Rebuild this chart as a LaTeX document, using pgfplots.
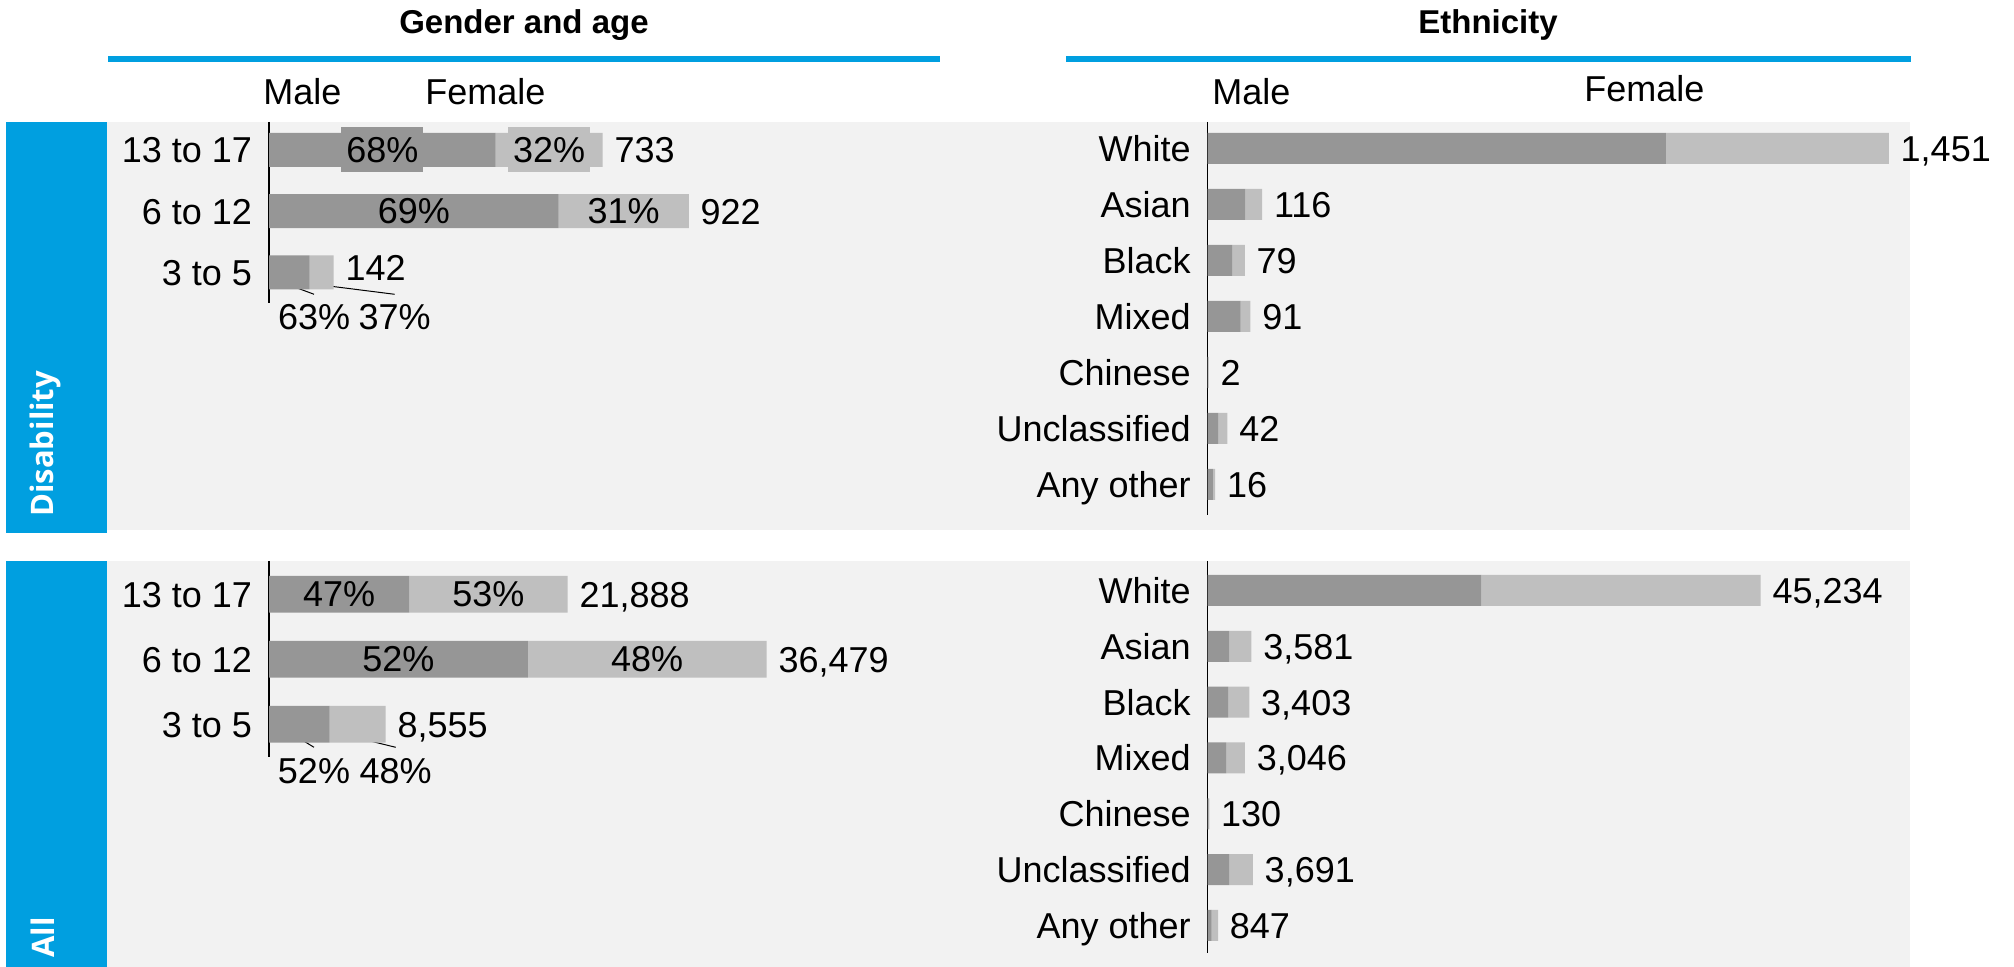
\documentclass[border=0pt]{standalone}
\usepackage{pgfplots}
\pgfplotsset{compat=1.18}
\usepackage{fontspec}
\setmainfont{Liberation Sans}
\newfontfamily\sidefont{Open Sans}
\definecolor{bblue}{RGB}{0,159,224}
\definecolor{mdark}{RGB}{150,150,150}
\definecolor{flight}{RGB}{191,191,191}
\definecolor{panel}{RGB}{242,242,242}
\newcommand\fsz{\fontsize{18}{21.6}\selectfont}
\tikzset{lab/.style={font=\fsz, text=black},
  tot/.style={font=\fsz, text=black, anchor=west, inner xsep=5.75pt, text height=12.9pt, text depth=0pt}}
\pgfplotsset{
  mybar/.style={
    xbar stacked, scale only axis, y dir=reverse, xmin=0, clip=false,
    enlargelimits=false, hide x axis, axis y line*=left,
    y axis line style={-, black, line width=0.7pt},
    ytick style={draw=none}, major tick length=0pt,
    yticklabel style={font=\fsz, anchor=east, text height=12.9pt, text depth=0pt, xshift=-5pt},
    anchor=north west,
  },
  mal/.style={fill=mdark, draw=none},
  fem/.style={fill=flight, draw=none},
}
\begin{document}
\begin{tikzpicture}[font=\fsz]
\useasboundingbox (0,0) rectangle (1007pt,483.5pt);
% panels
\fill[panel] (53.5pt,218.5pt) rectangle (955pt,422.5pt);
\fill[panel] (53.5pt,0pt) rectangle (955pt,203pt);
\fill[bblue] (3pt,217pt) rectangle (53.5pt,422.5pt);
\fill[bblue] (3pt,0pt) rectangle (53.5pt,203pt);
\node[rotate=90, anchor=base west, inner sep=0pt, text=white, font=\sidefont\bfseries\fontsize{15.5}{18}\selectfont] at (26.75pt,225pt) {Disability};
\node[rotate=90, anchor=base west, inner sep=0pt, text=white, font=\sidefont\bfseries\fontsize{15.5}{18}\selectfont] at (27pt,4.5pt) {All};
% titles
\fill[bblue] (54pt,452.5pt) rectangle (470pt,455.5pt);
\fill[bblue] (533pt,452.5pt) rectangle (955.5pt,455.5pt);
\node[anchor=base, inner sep=0pt, font=\bfseries\fontsize{16.5}{19}\selectfont] at (262pt,466.75pt) {Gender and age};
\node[anchor=base, inner sep=0pt, font=\bfseries\fontsize{16.5}{19}\selectfont] at (744pt,466.75pt) {Ethnicity};
\node[anchor=base west, inner sep=0pt] at (131.5pt,431pt) {Male};
\node[anchor=base west, inner sep=0pt] at (212.5pt,431pt) {Female};
\node[anchor=base west, inner sep=0pt] at (606pt,431pt) {Male};
\node[anchor=base west, inner sep=0pt] at (792pt,432.5pt) {Female};

% Disability - gender and age
\begin{axis}[mybar, at={(134.5pt,422.5pt)}, width=227.65pt, height=90.5pt,
  xmax=1000, ymin=-0.457, ymax=2.498, bar width=17pt,
  ytick={0,1,2}, yticklabels={13 to 17,6 to 12,3 to 5}]
\addplot[mal] coordinates {(498,0) (636,1) (89,2)};
\addplot[fem] coordinates {(235,0) (286,1) (53,2)};
\coordinate (d1m) at (axis cs:249,0);
\coordinate (d1f) at (axis cs:615.5,0);
\coordinate (d2m) at (axis cs:318,1);
\coordinate (d2f) at (axis cs:779,1);
\coordinate (d1t) at (axis cs:733,0);
\coordinate (d2t) at (axis cs:922,1);
\coordinate (d3t) at (axis cs:142,2);
\draw[black, line width=0.5pt] (axis cs:44,2.204) -- (axis cs:99,2.356);
\draw[black, line width=0.5pt] (axis cs:114,2.204) -- (axis cs:276,2.356);
\node[lab] at (axis cs:99,2.727) {63\%};
\node[lab] at (axis cs:276,2.727) {37\%};
\end{axis}
\node[lab, fill=mdark, inner xsep=2.5pt, minimum height=22.5pt] at (d1m) {68\%};
\node[lab, fill=flight, inner xsep=2.5pt, minimum height=22.5pt] at (d1f) {32\%};
\node[lab] at (d2m) {69\%};
\node[lab] at (d2f) {31\%};
\node[tot] at (d1t) {733};
\node[tot] at (d2t) {922};
\node[tot, yshift=2.5pt] at (d3t) {142};

% All - gender and age
\begin{axis}[mybar, at={(134.5pt,203pt)}, width=272.84pt, height=98pt,
  xmax=40000, ymin=-0.512, ymax=2.503, bar width=18.3pt,
  ytick={0,1,2}, yticklabels={13 to 17,6 to 12,3 to 5}]
\addplot[mal] coordinates {(10287,0) (18969,1) (4449,2)};
\addplot[fem] coordinates {(11601,0) (17510,1) (4106,2)};
\coordinate (a1m) at (axis cs:5143.5,0);
\coordinate (a1f) at (axis cs:16087.5,0);
\coordinate (a2m) at (axis cs:9484.5,1);
\coordinate (a2f) at (axis cs:27724,1);
\coordinate (a1t) at (axis cs:21888,0);
\coordinate (a2t) at (axis cs:36479,1);
\coordinate (a3t) at (axis cs:8555,2);
\draw[black, line width=0.5pt] (axis cs:2148,2.206) -- (axis cs:3299,2.354);
\draw[black, line width=0.5pt] (axis cs:6429,2.206) -- (axis cs:9288,2.354);
\node[lab] at (axis cs:3299,2.72) {52\%};
\node[lab] at (axis cs:9288,2.72) {48\%};
\end{axis}
\node[lab] at (a1m) {47\%};
\node[lab] at (a1f) {53\%};
\node[lab] at (a2m) {52\%};
\node[lab] at (a2f) {48\%};
\node[tot] at (a1t) {21,888};
\node[tot] at (a2t) {36,479};
\node[tot] at (a3t) {8,555};

% Disability - ethnicity
\begin{axis}[mybar, at={(603.85pt,422.5pt)}, width=352.05pt, height=196.5pt,
  xmax=1500, ymin=-0.473, ymax=6.545, bar width=15.5pt,
  ytick={0,...,6}, yticklabels={White,Asian,Black,Mixed,Chinese,Unclassified,Any other}]
\addplot[mal] coordinates {(976,0) (80,1) (52,2) (70,3) (1,4) (22,5) (11,6)};
\addplot[fem] coordinates {(475,0) (36,1) (27,2) (21,3) (1,4) (20,5) (5,6)};
\node[tot] at (axis cs:1451,0) {1,451};
\node[tot] at (axis cs:116,1) {116};
\node[tot] at (axis cs:79,2) {79};
\node[tot] at (axis cs:91,3) {91};
\node[tot] at (axis cs:2,4) {2};
\node[tot] at (axis cs:42,5) {42};
\node[tot] at (axis cs:16,6) {16};
\end{axis}

% All - ethnicity
\begin{axis}[mybar, at={(603.85pt,203pt)}, width=305.65pt, height=196pt,
  xmax=50000, ymin=-0.528, ymax=6.493, bar width=15.5pt,
  ytick={0,...,6}, yticklabels={White,Asian,Black,Mixed,Chinese,Unclassified,Any other}]
\addplot[mal] coordinates {(22380,0) (1775,1) (1662,2) (1500,3) (65,4) (1745,5) (330,6)};
\addplot[fem] coordinates {(22854,0) (1806,1) (1741,2) (1546,3) (65,4) (1946,5) (517,6)};
\node[tot] at (axis cs:45234,0) {45,234};
\node[tot] at (axis cs:3581,1) {3,581};
\node[tot] at (axis cs:3403,2) {3,403};
\node[tot] at (axis cs:3046,3) {3,046};
\node[tot] at (axis cs:130,4) {130};
\node[tot] at (axis cs:3691,5) {3,691};
\node[tot] at (axis cs:847,6) {847};
\end{axis}
\end{tikzpicture}
\end{document}
